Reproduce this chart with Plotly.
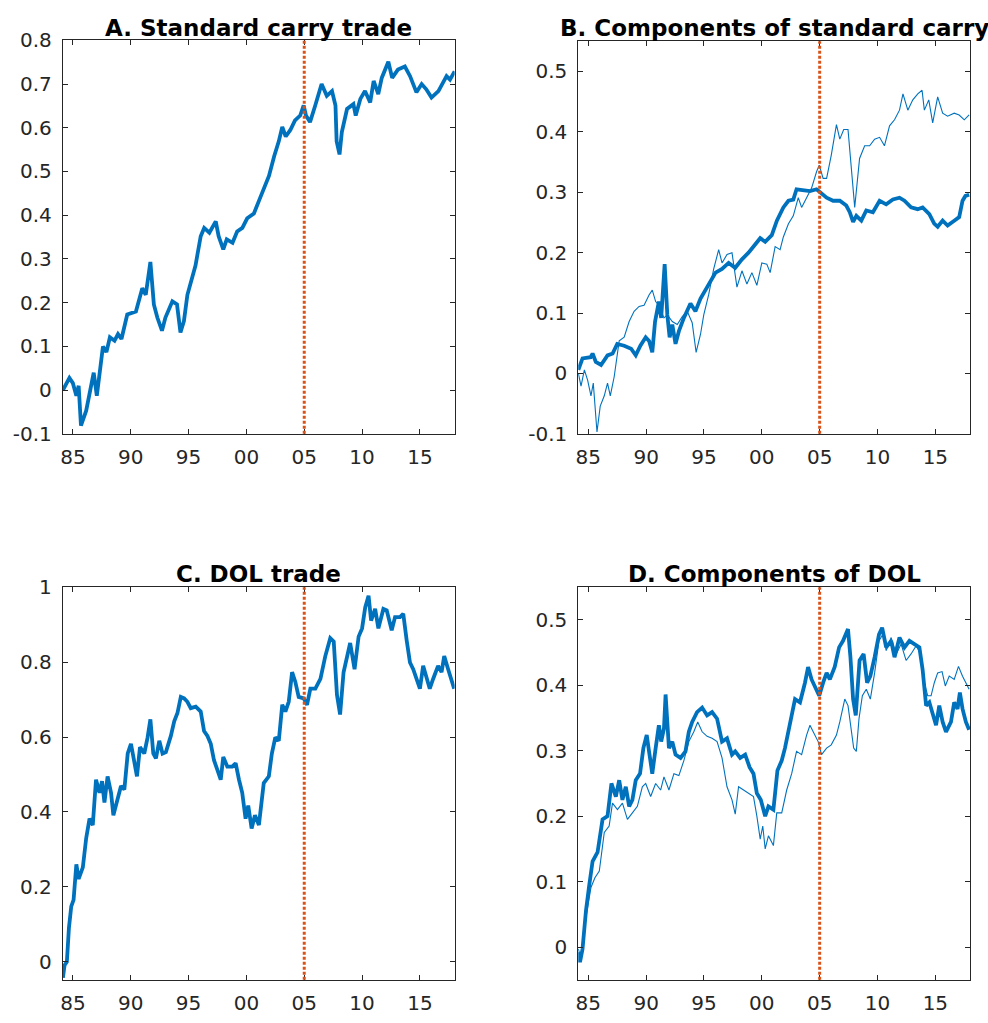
import plotly.graph_objects as go

# ---------------- data ----------------
XTICK_VALS = [1985, 1990, 1995, 2000, 2005, 2010, 2015]
XTICK_TEXT = ["85", "90", "95", "00", "05", "10", "15"]
BREAK_YEAR = 2005

# Panel A: standard carry trade
a_years = [1984.14, 1984.7, 1985.0, 1985.3, 1985.5, 1985.7, 1986.15, 1986.6, 1986.8, 1987.07,
           1987.3, 1987.6, 1987.9, 1988.2, 1988.6, 1988.9, 1989.2, 1989.7, 1990.45, 1991.0,
           1991.3, 1991.7, 1992.0, 1992.3, 1992.7, 1993.0, 1993.6, 1994.0, 1994.3, 1994.6,
           1994.9, 1995.6, 1996.05, 1996.35, 1996.8, 1997.35, 1997.6, 1998.0, 1998.3, 1998.8,
           1999.2, 1999.65, 2000.07, 2000.65, 2001.1, 2001.5, 2001.95, 2002.4, 2002.8, 2003.1,
           2003.4, 2003.8, 2004.2, 2004.65, 2004.95, 2005.15, 2005.5, 2005.95, 2006.5, 2006.95,
           2007.4, 2007.7, 2007.8, 2008.05, 2008.25, 2008.7, 2009.25, 2009.45, 2009.85, 2010.25,
           2010.7, 2011.0, 2011.4, 2011.7, 2012.27, 2012.6, 2013.1, 2013.7, 2014.15, 2014.7,
           2015.15, 2015.55, 2016.0, 2016.6, 2017.3, 2017.6, 2018.0]
a_vals = [0.0, 0.028, 0.016, -0.013, 0.01, -0.081, -0.047, 0.009, 0.04, -0.013,
          0.031, 0.1, 0.087, 0.121, 0.113, 0.128, 0.117, 0.173, 0.18, 0.233,
          0.218, 0.293, 0.196, 0.166, 0.136, 0.166, 0.203, 0.196, 0.132, 0.158,
          0.218, 0.285, 0.352, 0.371, 0.36, 0.386, 0.352, 0.322, 0.345, 0.337,
          0.363, 0.371, 0.393, 0.404, 0.434, 0.46, 0.49, 0.535, 0.569, 0.602,
          0.58, 0.595, 0.617, 0.628, 0.651, 0.628, 0.613, 0.651, 0.7, 0.673,
          0.684, 0.651, 0.569, 0.539, 0.59, 0.643, 0.654, 0.628, 0.666, 0.684,
          0.658, 0.707, 0.677, 0.714, 0.751, 0.714, 0.733, 0.74, 0.718, 0.681,
          0.7, 0.688, 0.669, 0.684, 0.718, 0.71, 0.729]

# Panel B: components of standard carry (thick and thin)
b_thick_years = [1984.14, 1984.5, 1985.2, 1985.37, 1985.65, 1986.1, 1986.66, 1987.1, 1987.5, 1988.1,
                 1988.7, 1989.1, 1989.5, 1989.96, 1990.25, 1990.53, 1990.77, 1991.1, 1991.3, 1991.6,
                 1991.83, 1992.03, 1992.26, 1992.54, 1992.83, 1993.26, 1993.83, 1994.26, 1994.7, 1995.1,
                 1995.55, 1996.0, 1996.56, 1997.13, 1997.7, 1998.28, 1998.85, 1999.43, 1999.86, 2000.29,
                 2000.86, 2001.3, 2001.58, 2001.86, 2002.3, 2002.72, 2003.0, 2003.6, 2004.16, 2004.73,
                 2005.16, 2005.6, 2006.16, 2006.74, 2007.3, 2007.6, 2007.89, 2008.17, 2008.6, 2009.03,
                 2009.6, 2010.18, 2010.75, 2011.33, 2011.9, 2012.33, 2012.9, 2013.47, 2013.9, 2014.48,
                 2014.9, 2015.2, 2015.63, 2016.06, 2016.63, 2017.06, 2017.35, 2017.6, 2017.92]
b_thick_vals = [0.006, 0.025, 0.027, 0.033, 0.019, 0.014, 0.03, 0.033, 0.049, 0.046,
                0.041, 0.03, 0.046, 0.06, 0.054, 0.035, 0.086, 0.119, 0.092, 0.181,
                0.097, 0.06, 0.081, 0.049, 0.07, 0.092, 0.116, 0.103, 0.124, 0.138,
                0.151, 0.167, 0.173, 0.183, 0.175, 0.189, 0.2, 0.213, 0.224, 0.218,
                0.229, 0.253, 0.264, 0.275, 0.286, 0.288, 0.305, 0.303, 0.302, 0.305,
                0.299, 0.291, 0.286, 0.286, 0.278, 0.267, 0.251, 0.261, 0.253, 0.27,
                0.267, 0.286, 0.28, 0.288, 0.291, 0.286, 0.275, 0.272, 0.275, 0.264,
                0.248, 0.243, 0.253, 0.245, 0.253, 0.259, 0.286, 0.294, 0.296]

b_thin_years = [1984.14, 1984.37, 1984.66, 1984.94, 1985.23, 1985.43, 1985.75, 1986.03, 1986.38, 1986.66,
                1986.9, 1987.24, 1987.67, 1988.1, 1988.53, 1988.96, 1989.39, 1989.82, 1990.25, 1990.53,
                1990.82, 1991.1, 1991.54, 1991.83, 1992.26, 1992.69, 1993.12, 1993.55, 1993.98, 1994.32,
                1994.7, 1994.98, 1995.4, 1995.84, 1996.27, 1996.56, 1996.99, 1997.42, 1997.85, 1998.28,
                1998.71, 1999.14, 1999.57, 2000.0, 2000.43, 2000.72, 2001.15, 2001.58, 2001.86, 2002.3,
                2002.72, 2003.15, 2003.44, 2003.87, 2004.3, 2004.73, 2004.96, 2005.3, 2005.6, 2006.0,
                2006.45, 2006.74, 2007.08, 2007.45, 2007.74, 2008.03, 2008.45, 2008.89, 2009.32, 2009.75,
                2010.18, 2010.6, 2011.04, 2011.47, 2011.9, 2012.2, 2012.62, 2013.05, 2013.48, 2013.85,
                2014.05, 2014.43, 2014.77, 2015.2, 2015.63, 2016.06, 2016.63, 2017.06, 2017.5, 2017.92]
b_thin_vals = [0.0, -0.021, 0.006, -0.011, -0.037, -0.016, -0.097, -0.054, -0.037, -0.016,
               -0.037, -0.005, 0.054, 0.06, 0.086, 0.103, 0.111, 0.113, 0.13, 0.138,
               0.119, 0.113, 0.092, 0.097, 0.086, 0.081, 0.094, 0.103, 0.084, 0.035,
               0.065, 0.097, 0.13, 0.173, 0.205, 0.183, 0.197, 0.2, 0.143, 0.17,
               0.148, 0.167, 0.146, 0.183, 0.181, 0.167, 0.21, 0.205, 0.226, 0.248,
               0.261, 0.291, 0.275, 0.291, 0.307, 0.334, 0.345, 0.323, 0.323, 0.361,
               0.412, 0.388, 0.404, 0.404, 0.34, 0.275, 0.356, 0.377, 0.377, 0.388,
               0.391, 0.377, 0.41, 0.42, 0.436, 0.463, 0.436, 0.453, 0.463, 0.469,
               0.436, 0.453, 0.415, 0.458, 0.431, 0.426, 0.431, 0.428, 0.42, 0.428]

# Panel C: DOL trade
c_years = [1984.14, 1984.28, 1984.48, 1984.66, 1984.86, 1985.06, 1985.3, 1985.5, 1985.86, 1986.15,
           1986.44, 1986.72, 1987.0, 1987.3, 1987.52, 1987.73, 1988.0, 1988.3, 1988.5, 1988.87,
           1989.16, 1989.45, 1989.74, 1990.02, 1990.3, 1990.54, 1990.8, 1991.17, 1991.46, 1991.7,
           1991.95, 1992.18, 1992.47, 1992.75, 1993.04, 1993.47, 1993.76, 1994.04, 1994.33, 1994.62,
           1994.9, 1995.19, 1995.62, 1996.05, 1996.34, 1996.63, 1996.92, 1997.2, 1997.49, 1997.78,
           1998.0, 1998.35, 1998.78, 1999.07, 1999.36, 1999.64, 1999.93, 2000.16, 2000.45, 2000.74,
           2001.08, 2001.5, 2001.94, 2002.2, 2002.5, 2002.8, 2003.1, 2003.37, 2003.66, 2003.95,
           2004.23, 2004.52, 2004.95, 2005.24, 2005.53, 2005.96, 2006.4, 2006.82, 2007.25, 2007.55,
           2007.83, 2008.1, 2008.4, 2008.7, 2008.97, 2009.35, 2009.7, 2010.0, 2010.27, 2010.56,
           2010.78, 2011.13, 2011.41, 2011.84, 2012.13, 2012.56, 2012.85, 2013.28, 2013.56, 2013.85,
           2014.14, 2014.42, 2014.71, 2015.0, 2015.28, 2015.57, 2015.85, 2016.14, 2016.57, 2016.87,
           2017.1, 2017.44, 2017.73, 2017.96]
c_vals = [-0.043, -0.009, 0.0, 0.091, 0.148, 0.165, 0.26, 0.221, 0.252, 0.33,
          0.382, 0.365, 0.486, 0.451, 0.482, 0.425, 0.495, 0.451, 0.391, 0.434,
          0.469, 0.46, 0.556, 0.582, 0.53, 0.495, 0.573, 0.556, 0.599, 0.647,
          0.556, 0.543, 0.59, 0.556, 0.56, 0.603, 0.642, 0.664, 0.707, 0.703,
          0.694, 0.677, 0.681, 0.668, 0.616, 0.603, 0.582, 0.538, 0.512, 0.486,
          0.547, 0.521, 0.521, 0.53, 0.486, 0.451, 0.382, 0.417, 0.356, 0.391,
          0.365, 0.477, 0.495, 0.556, 0.599, 0.59, 0.686, 0.668, 0.694, 0.773,
          0.747, 0.707, 0.703, 0.686, 0.729, 0.729, 0.755, 0.816, 0.864, 0.855,
          0.712, 0.66, 0.773, 0.816, 0.851, 0.781, 0.868, 0.89, 0.946, 0.977,
          0.911, 0.942, 0.89, 0.942, 0.938, 0.885, 0.92, 0.92, 0.929, 0.859,
          0.799, 0.781, 0.755, 0.729, 0.79, 0.755, 0.729, 0.755, 0.79, 0.773,
          0.816, 0.781, 0.75, 0.729]

# Panel D: components of DOL (thick and thin)
d_thick_years = [1984.14, 1984.28, 1984.5, 1984.8, 1985.09, 1985.37, 1985.8, 1986.23, 1986.66, 1987.0,
                 1987.38, 1987.67, 1987.95, 1988.24, 1988.53, 1988.81, 1989.1, 1989.47, 1989.76, 1990.05,
                 1990.25, 1990.53, 1990.82, 1991.1, 1991.3, 1991.54, 1991.68, 1991.97, 1992.26, 1992.54,
                 1992.97, 1993.4, 1993.69, 1993.98, 1994.4, 1994.84, 1995.27, 1995.7, 1996.13, 1996.56,
                 1996.99, 1997.42, 1997.7, 1998.13, 1998.56, 1998.94, 1999.28, 1999.57, 1999.91, 2000.29,
                 2000.57, 2001.0, 2001.35, 2001.72, 2002.0, 2002.3, 2002.58, 2002.87, 2003.3, 2003.73,
                 2004.0, 2004.3, 2004.59, 2004.96, 2005.3, 2005.6, 2005.88, 2006.3, 2006.68, 2007.02,
                 2007.45, 2007.66, 2007.89, 2008.12, 2008.45, 2008.8, 2009.1, 2009.38, 2009.75, 2010.13,
                 2010.4, 2010.75, 2011.18, 2011.47, 2011.9, 2012.33, 2012.76, 2013.19, 2013.62, 2013.9,
                 2014.2, 2014.48, 2014.77, 2015.06, 2015.34, 2015.63, 2015.92, 2016.35, 2016.63, 2016.92,
                 2017.12, 2017.35, 2017.64, 2017.92]
d_thick_vals = [-0.008, -0.023, -0.003, 0.056, 0.096, 0.131, 0.145, 0.195, 0.2, 0.25,
                0.23, 0.255, 0.225, 0.245, 0.215, 0.225, 0.255, 0.265, 0.304, 0.324,
                0.299, 0.265, 0.304, 0.339, 0.314, 0.334, 0.386, 0.304, 0.314, 0.294,
                0.289, 0.299, 0.329, 0.344, 0.359, 0.366, 0.354, 0.359, 0.349, 0.314,
                0.319, 0.294, 0.299, 0.289, 0.294, 0.275, 0.265, 0.235, 0.225, 0.2,
                0.215, 0.21, 0.27, 0.285, 0.304, 0.334, 0.354, 0.379, 0.374, 0.404,
                0.428, 0.409, 0.399, 0.384, 0.404, 0.419, 0.409, 0.428, 0.458, 0.468,
                0.486, 0.443, 0.379, 0.354, 0.438, 0.448, 0.404, 0.414, 0.443, 0.478,
                0.488, 0.458, 0.468, 0.443, 0.473, 0.458, 0.468, 0.463, 0.458, 0.424,
                0.369, 0.374, 0.354, 0.339, 0.369, 0.344, 0.329, 0.344, 0.374, 0.364,
                0.389, 0.364, 0.344, 0.332]

d_thin_years = [1984.14, 1984.37, 1984.8, 1985.23, 1985.57, 1985.95, 1986.38, 1986.8, 1987.09, 1987.52,
                1987.95, 1988.38, 1988.81, 1989.24, 1989.67, 1989.96, 1990.39, 1990.82, 1991.25, 1991.54,
                1991.97, 1992.4, 1992.83, 1993.26, 1993.69, 1994.12, 1994.46, 1994.84, 1995.27, 1995.7,
                1996.13, 1996.56, 1996.99, 1997.42, 1997.7, 1997.99, 1998.42, 1998.85, 1999.28, 1999.57,
                1999.86, 2000.08, 2000.29, 2000.57, 2001.0, 2001.29, 2001.72, 2002.15, 2002.58, 2003.0,
                2003.44, 2003.87, 2004.16, 2004.44, 2004.87, 2005.16, 2005.6, 2006.0, 2006.45, 2006.74,
                2007.17, 2007.45, 2007.74, 2007.94, 2008.17, 2008.4, 2008.69, 2009.03, 2009.38, 2009.75,
                2010.13, 2010.47, 2010.75, 2011.18, 2011.62, 2012.04, 2012.47, 2012.9, 2013.33, 2013.76,
                2014.05, 2014.34, 2014.63, 2014.91, 2015.2, 2015.58, 2015.86, 2016.2, 2016.63, 2017.0,
                2017.35, 2017.64, 2017.92]
d_thin_vals = [-0.003, -0.018, 0.046, 0.091, 0.106, 0.116, 0.175, 0.185, 0.22, 0.21,
               0.22, 0.195, 0.205, 0.215, 0.245, 0.25, 0.23, 0.25, 0.24, 0.26,
               0.24, 0.265, 0.262, 0.285, 0.314, 0.329, 0.344, 0.329, 0.322, 0.319,
               0.314, 0.289, 0.245, 0.225, 0.203, 0.245, 0.24, 0.235, 0.23, 0.2,
               0.165, 0.185, 0.15, 0.17, 0.155, 0.205, 0.205, 0.24, 0.265, 0.299,
               0.294, 0.324, 0.339, 0.329, 0.314, 0.294, 0.304, 0.309, 0.324, 0.344,
               0.379, 0.369, 0.334, 0.304, 0.299, 0.349, 0.384, 0.394, 0.379, 0.419,
               0.468, 0.478, 0.453, 0.473, 0.448, 0.463, 0.438, 0.448, 0.46, 0.448,
               0.404, 0.384, 0.384, 0.404, 0.419, 0.421, 0.399, 0.414, 0.409, 0.429,
               0.414, 0.404, 0.394]

PANEL_TITLES = ["A. Standard carry trade", "B. Components of standard carry",
                "C. DOL trade", "D. Components of DOL"]

a_yticks = [-0.1, 0, 0.1, 0.2, 0.3, 0.4, 0.5, 0.6, 0.7, 0.8]
a_ytext = ["-0.1", "0", "0.1", "0.2", "0.3", "0.4", "0.5", "0.6", "0.7", "0.8"]
b_yticks = [-0.1, 0, 0.1, 0.2, 0.3, 0.4, 0.5]
b_ytext = ["-0.1", "0", "0.1", "0.2", "0.3", "0.4", "0.5"]
c_yticks = [0, 0.2, 0.4, 0.6, 0.8, 1]
c_ytext = ["0", "0.2", "0.4", "0.6", "0.8", "1"]
d_yticks = [0, 0.1, 0.2, 0.3, 0.4, 0.5]
d_ytext = ["0", "0.1", "0.2", "0.3", "0.4", "0.5"]

a_yrange = [-0.1, 0.8]
b_yrange = [-0.1, 0.55]
c_yrange = [-0.048, 1.0]
d_yrange = [-0.05, 0.55]
x_range = [1984.13, 2018.0]

# ---------------- styling / layout ----------------
W, H = 988, 1023
BLUE = "#0072BD"
ORANGE = "#D95319"
AXC = "#262626"
FONT = "DejaVu Sans"

def px_dom_x(l, r):
    return [l / W, r / W]

def px_dom_y(t, b):
    return [1 - b / H, 1 - t / H]

fig = go.Figure()

panels = [
    dict(ax="", xd=px_dom_x(60, 453), yd=px_dom_y(29, 432), yr=a_yrange, yt=a_yticks, ytt=a_ytext,
         series=[(a_years, a_vals, 3.8)]),
    dict(ax="2", xd=px_dom_x(577, 970), yd=px_dom_y(30, 432), yr=b_yrange, yt=b_yticks, ytt=b_ytext,
         series=[(b_thick_years, b_thick_vals, 3.8), (b_thin_years, b_thin_vals, 1.1)]),
    dict(ax="3", xd=px_dom_x(60, 453), yd=px_dom_y(589, 991), yr=c_yrange, yt=c_yticks, ytt=c_ytext,
         series=[(c_years, c_vals, 3.8)]),
    dict(ax="4", xd=px_dom_x(577, 970), yd=px_dom_y(589, 991), yr=d_yrange, yt=d_yticks, ytt=d_ytext,
         series=[(d_thick_years, d_thick_vals, 3.8), (d_thin_years, d_thin_vals, 1.1)]),
]

layout = dict(
    width=W, height=H, margin=dict(l=0, r=0, t=0, b=0),
    paper_bgcolor="white", plot_bgcolor="white", showlegend=False,
    font=dict(family=FONT, color=AXC),
)

title_y = [1 - 16 / H, 1 - 16 / H, 1 - 576 / H, 1 - 576 / H]
annotations = []
for i, p in enumerate(panels):
    xa = "x" + p["ax"]
    ya = "y" + p["ax"]
    for yrs, vals, w in p["series"]:
        fig.add_trace(go.Scatter(x=yrs, y=vals, mode="lines", xaxis=xa, yaxis=ya,
                                 line=dict(color=BLUE, width=w), hoverinfo="skip"))
    common = dict(showline=True, linecolor=AXC, linewidth=1, mirror="ticks",
                  ticks="inside", ticklen=5, tickcolor=AXC, tickwidth=1,
                  showgrid=False, zeroline=False,
                  tickfont=dict(family=FONT, size=20, color=AXC))
    layout["xaxis" + p["ax"]] = dict(common, domain=p["xd"], range=x_range,
                                     tickvals=XTICK_VALS, ticktext=XTICK_TEXT,
                                     anchor=ya, ticklabelstandoff=5)
    layout["yaxis" + p["ax"]] = dict(common, domain=p["yd"], range=p["yr"],
                                     tickvals=p["yt"], ticktext=p["ytt"],
                                     anchor=xa, ticklabelstandoff=6)
    annotations.append(dict(text="<b>" + PANEL_TITLES[i] + "</b>", xref="paper", yref="paper",
                            x=(p["xd"][0] + p["xd"][1]) / 2, y=title_y[i],
                            xanchor="center", yanchor="middle", showarrow=False,
                            font=dict(family=FONT, size=23, color="black")))

layout["annotations"] = annotations
fig.update_layout(**layout)

for p in panels:
    fig.add_shape(type="line", xref="x" + p["ax"], yref="y" + p["ax"] + " domain",
                  x0=BREAK_YEAR, x1=BREAK_YEAR, y0=0, y1=1, layer="above",
                  line=dict(color=ORANGE, width=3, dash="3px,2px"))

fig.write_html("out.html", config={"displayModeBar": False, "staticPlot": True},
               post_script="document.body.style.margin='0';document.body.style.overflow='hidden';")
